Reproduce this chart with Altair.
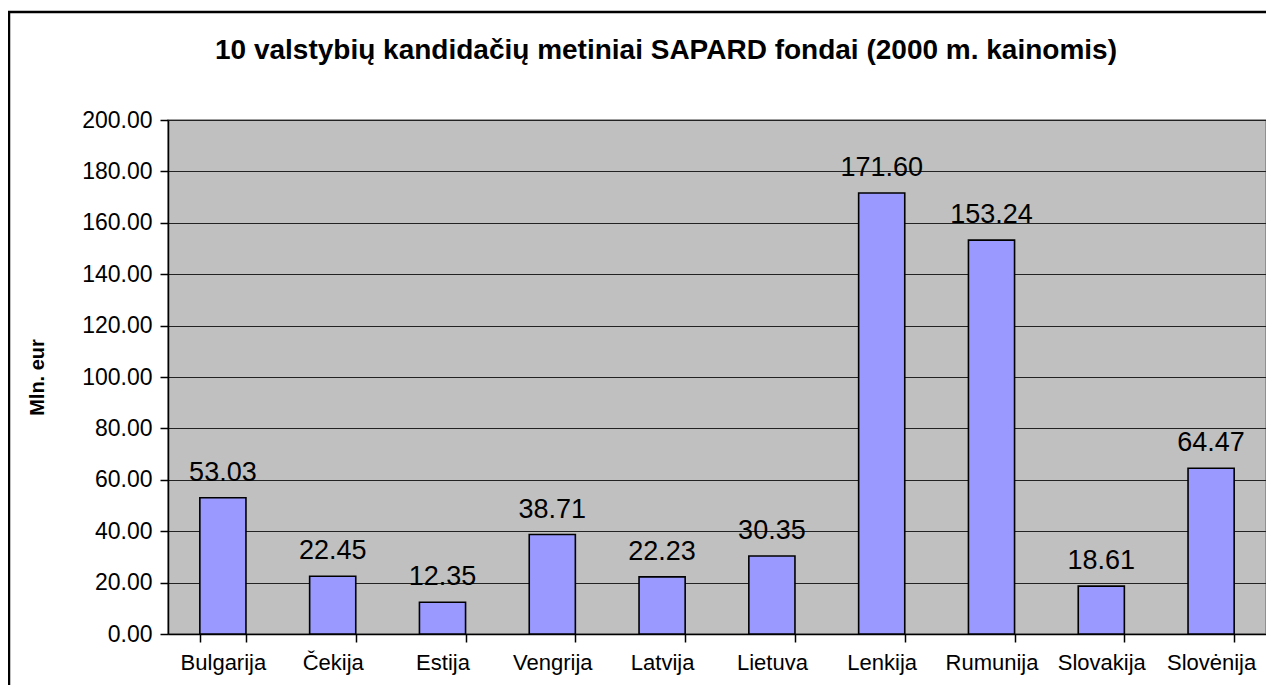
import altair as alt
import pandas as pd

countries = ["Bulgarija", "Čekija", "Estija", "Vengrija", "Latvija", "Lietuva",
             "Lenkija", "Rumunija", "Slovakija", "Slovėnija"]
values = [53.03, 22.45, 12.35, 38.71, 22.23, 30.35, 171.60, 153.24, 18.61, 64.47]
y_ticks = [0, 20, 40, 60, 80, 100, 120, 140, 160, 180, 200]
title_text = "10 valstybių kandidačių metiniai SAPARD fondai (2000 m. kainomis)"

df = pd.DataFrame({"country": countries, "value": values})

W, H = 1098, 514
FONT = "Liberation Sans"

x_enc = alt.X("country:N", sort=countries, title=None,
              scale=alt.Scale(paddingInner=0.58, paddingOuter=0.29),
              axis=alt.Axis(labelAngle=0, labelFontSize=22, labelFont=FONT,
                            labelColor="black", domainColor="black", domainWidth=1.5,
                            tickColor="black", tickSize=8, tickWidth=1.5,
                            tickBand="extent", labelPadding=10, labelOverlap=False,
                            labelLimit=0))
y_enc = alt.Y("value:Q", title="Mln. eur",
              scale=alt.Scale(domain=[0, 200], nice=False),
              axis=alt.Axis(values=y_ticks, format=".2f", labelFontSize=23, labelFont=FONT,
                            labelColor="black", domainColor="black", domainWidth=1.5,
                            tickColor="black", tickSize=8, tickWidth=1.5,
                            labelPadding=8, grid=True, gridColor="#222222",
                            gridWidth=1.2, titleFontSize=20, titleFont=FONT,
                            titleFontWeight="bold", titleColor="black",
                            titlePadding=34))

bars = alt.Chart(df).mark_bar(color="#9999FF", stroke="black", strokeWidth=1.6).encode(
    x=x_enc, y=y_enc)

labels = alt.Chart(df).mark_text(fontSize=27, font=FONT, color="black",
                                 baseline="alphabetic", dy=-17).encode(
    x=alt.X("country:N", sort=countries),
    y="value:Q",
    text=alt.Text("value:Q", format=".2f"))

title_df = pd.DataFrame({"t": [title_text]})
title_mark = alt.Chart(title_df).mark_text(fontSize=28, font=FONT, fontWeight="bold",
                                           color="black", align="center",
                                           baseline="alphabetic", clip=False).encode(
    x=alt.value(498), y=alt.value(-61), text="t:N")

frame_df = pd.DataFrame({"k": [0]})
frame_left = alt.Chart(frame_df).mark_rule(color="black", strokeWidth=2.5, clip=False).encode(
    x=alt.value(-159), y=alt.value(-108), y2=alt.value(700))
frame_top = alt.Chart(frame_df).mark_rule(color="black", strokeWidth=2.5, clip=False).encode(
    x=alt.value(-160), x2=alt.value(1300), y=alt.value(-108))

chart = alt.layer(bars, labels, title_mark, frame_left, frame_top).properties(
    width=W, height=H,
    padding={"left": 160, "top": 112, "right": 0, "bottom": 51},
    autosize="none",
    background="white",
).configure_view(fill="#C0C0C0", stroke="#808080", strokeWidth=1.5)

chart.save("out.html", embed_options={"renderer": "svg", "actions": False})
